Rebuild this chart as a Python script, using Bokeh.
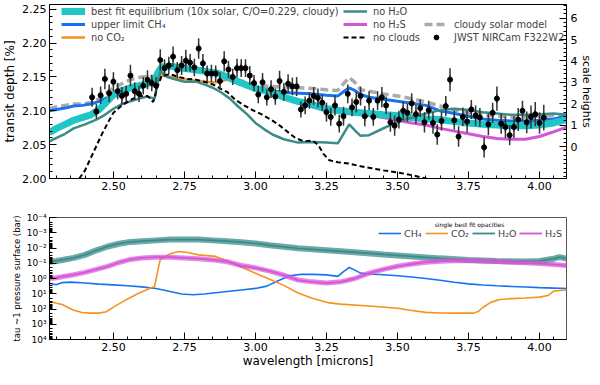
import numpy as np
from bokeh.plotting import figure
from bokeh.layouts import column
from bokeh.models import (Range1d, LinearAxis, Legend, LegendItem, Label, FixedTicker,
                          PrintfTickFormatter, CustomJSTickFormatter, ColumnDataSource)
from bokeh.embed import file_html
from bokeh.resources import INLINE

FONT = "DejaVu Sans"

# ---------------- top panel: model spectra (wavelength [micron], transit depth [%]) ----------
wl_best = [2.275,2.30,2.33,2.36,2.39,2.42,2.45,2.48,2.50,2.53,2.56,2.59,2.62,2.645,2.655,2.67,2.70,2.73,2.76,2.80,
           2.84,2.87,2.90,2.95,3.00,3.05,3.10,3.15,3.20,3.25,3.30,3.35,3.40,3.45,3.50,3.55,3.60,3.65,3.70,3.75,
           3.80,3.85,3.90,3.95,4.00,4.05,4.095]
depth_best = [2.068,2.074,2.080,2.086,2.090,2.094,2.102,2.115,2.124,2.130,2.134,2.137,2.140,2.144,2.155,2.164,2.166,2.164,2.162,2.160,
              2.157,2.155,2.150,2.141,2.133,2.128,2.120,2.114,2.109,2.103,2.100,2.098,2.096,2.094,2.093,2.090,2.088,2.087,2.084,2.082,
              2.080,2.079,2.078,2.078,2.079,2.082,2.087]

wl_ch4 = [2.275,2.30,2.33,2.36,2.39,2.42,2.45,2.48,2.50,2.53,2.56,2.60,2.645,2.655,2.67,2.70,2.75,2.80,2.85,2.90,
          2.95,3.00,3.05,3.10,3.15,3.20,3.25,3.29,3.31,3.33,3.35,3.37,3.40,3.45,3.50,3.55,3.60,3.65,3.70,3.75,
          3.80,3.85,3.90,3.95,4.00,4.05,4.095]
depth_ch4 = [2.100,2.102,2.104,2.107,2.108,2.110,2.114,2.120,2.125,2.131,2.135,2.139,2.143,2.155,2.163,2.165,2.162,2.159,2.156,2.150,
             2.142,2.135,2.130,2.127,2.126,2.125,2.123,2.122,2.128,2.134,2.130,2.124,2.120,2.117,2.114,2.111,2.108,2.100,2.096,2.092,
             2.088,2.086,2.085,2.085,2.086,2.088,2.092]

wl_co2 = [2.275,2.30,2.33,2.36,2.39,2.42,2.45,2.48,2.50,2.53,2.56,2.59,2.62,2.645,2.655,2.67,2.70,2.73,2.76,2.80,
          2.84,2.87,2.90,2.93,2.95,3.00,3.05,3.10,3.15,3.20,3.25,3.30,3.35,3.40,3.45,3.50,3.55,3.60,3.65,3.70,
          3.75,3.80,3.85,3.90,3.95,4.00,4.05,4.095]
depth_co2 = [2.068,2.074,2.080,2.086,2.090,2.094,2.102,2.115,2.124,2.130,2.134,2.137,2.140,2.143,2.147,2.152,2.150,2.148,2.146,2.144,
             2.142,2.142,2.146,2.143,2.141,2.133,2.128,2.120,2.114,2.109,2.103,2.100,2.098,2.096,2.094,2.093,2.090,2.088,2.087,2.084,
             2.082,2.080,2.079,2.078,2.078,2.079,2.082,2.087]

wl_h2o = [2.275,2.30,2.33,2.36,2.40,2.44,2.47,2.50,2.53,2.56,2.59,2.62,2.645,2.655,2.665,2.69,2.72,2.75,2.79,2.82,
          2.85,2.88,2.91,2.94,2.97,3.00,3.03,3.06,3.10,3.15,3.20,3.25,3.29,3.31,3.33,3.35,3.37,3.40,3.44,3.48,
          3.52,3.56,3.60,3.65,3.70,3.75,3.80,3.85,3.90,3.95,4.00,4.05,4.095]
depth_h2o = [2.055,2.060,2.066,2.074,2.080,2.087,2.094,2.103,2.110,2.114,2.118,2.121,2.118,2.140,2.158,2.150,2.146,2.143,2.143,2.139,
             2.134,2.127,2.118,2.106,2.095,2.082,2.073,2.065,2.058,2.053,2.054,2.053,2.052,2.066,2.080,2.071,2.063,2.064,2.072,2.080,
             2.086,2.091,2.096,2.101,2.103,2.101,2.098,2.096,2.094,2.094,2.095,2.096,2.094]

wl_h2s = [2.275,2.30,2.33,2.36,2.39,2.42,2.45,2.48,2.50,2.53,2.56,2.59,2.62,2.645,2.655,2.67,2.70,2.75,2.80,2.85,
          2.90,2.95,3.00,3.05,3.10,3.15,3.20,3.25,3.30,3.35,3.40,3.45,3.50,3.55,3.60,3.65,3.70,3.75,3.80,3.85,
          3.90,3.95,4.00,4.05,4.095]
depth_h2s = [2.066,2.072,2.078,2.084,2.088,2.092,2.099,2.111,2.120,2.127,2.132,2.136,2.140,2.142,2.153,2.162,2.164,2.161,2.158,2.155,
             2.149,2.140,2.132,2.126,2.118,2.111,2.106,2.100,2.097,2.095,2.093,2.090,2.086,2.082,2.079,2.074,2.070,2.066,2.062,2.059,
             2.058,2.058,2.062,2.069,2.076]

wl_nocl = [2.275,2.33,2.36,2.38,2.40,2.42,2.44,2.46,2.48,2.50,2.53,2.56,2.59,2.62,2.64,2.655,2.67,2.70,2.73,2.76,
           2.79,2.82,2.85,2.88,2.90,2.93,2.96,2.99,3.02,3.05,3.08,3.11,3.14,3.17,3.20,3.22,3.24,3.26,3.29,3.33,
           3.37,3.41,3.45,3.50,3.55,3.60,3.65,3.70,3.75]
depth_nocl = [1.930,1.962,1.982,2.000,2.012,2.030,2.048,2.066,2.082,2.097,2.108,2.116,2.122,2.122,2.113,2.135,2.152,2.154,2.150,2.147,
              2.146,2.143,2.139,2.132,2.128,2.116,2.108,2.101,2.095,2.088,2.080,2.070,2.060,2.055,2.056,2.050,2.036,2.027,2.024,2.022,
              2.018,2.015,2.012,2.009,2.005,2.000,1.994,1.988,1.980]

wl_solar = [2.275,2.30,2.33,2.36,2.39,2.42,2.45,2.48,2.50,2.53,2.56,2.60,2.63,2.645,2.655,2.67,2.70,2.75,2.80,2.85,
            2.90,2.95,3.00,3.05,3.10,3.15,3.20,3.25,3.29,3.31,3.33,3.35,3.37,3.40,3.45,3.50,3.55,3.60,3.65,3.70,
            3.75,3.80,3.85,3.90,3.95,4.00,4.05,4.095]
depth_solar = [2.103,2.106,2.108,2.110,2.110,2.112,2.118,2.128,2.134,2.140,2.146,2.150,2.151,2.150,2.160,2.168,2.167,2.164,2.160,2.157,
               2.151,2.144,2.138,2.136,2.135,2.134,2.133,2.131,2.130,2.140,2.149,2.142,2.131,2.129,2.125,2.122,2.118,2.113,2.107,2.101,
               2.097,2.094,2.092,2.091,2.091,2.092,2.093,2.094]

# ---------------- JWST NIRCam F322W2 data points ----------
wl_obs = [2.425,2.440,2.455,2.470,2.485,2.500,2.515,2.530,2.545,2.560,
          2.575,2.590,2.605,2.620,2.635,2.650,2.665,2.680,2.695,2.710,
          2.725,2.740,2.755,2.770,2.785,2.800,2.815,2.830,2.845,2.860,
          2.875,2.890,2.905,2.920,2.935,2.950,2.965,2.980,2.995,3.010,
          3.025,3.040,3.055,3.070,3.085,3.100,3.115,3.130,3.145,3.160,
          3.175,3.190,3.205,3.220,3.235,3.250,3.265,3.280,3.295,3.310,
          3.325,3.340,3.355,3.370,3.385,3.400,3.415,3.430,3.445,3.460,
          3.475,3.490,3.505,3.520,3.535,3.550,3.565,3.580,3.595,3.610,
          3.625,3.640,3.655,3.670,3.685,3.700,3.715,3.730,3.745,3.760,
          3.775,3.790,3.805,3.820,3.835,3.850,3.865,3.880,3.895,3.910,
          3.925,3.940,3.955,3.970,3.985,4.000,4.015]
depth_obs = [2.120,2.099,2.123,2.147,2.126,2.143,2.129,2.122,2.125,2.152,
             2.129,2.125,2.137,2.146,2.141,2.137,2.175,2.163,2.167,2.180,
             2.160,2.167,2.174,2.171,2.164,2.192,2.170,2.155,2.155,2.155,
             2.144,2.173,2.161,2.150,2.163,2.163,2.163,2.152,2.141,2.124,
             2.142,2.120,2.132,2.121,2.144,2.128,2.140,2.136,2.136,2.102,
             2.108,2.115,2.122,2.119,2.112,2.098,2.091,2.108,2.081,2.092,
             2.125,2.105,2.113,2.122,2.092,2.115,2.091,2.115,2.120,2.108,
             2.083,2.078,2.087,2.100,2.097,2.111,2.095,2.104,2.083,2.101,
             2.082,2.065,2.085,2.107,2.146,2.086,2.062,2.091,2.084,2.102,
             2.093,2.090,2.046,2.080,2.097,2.118,2.081,2.076,2.064,2.076,
             2.087,2.100,2.083,2.091,2.095,2.082,2.090]
err_obs = [0.014,0.011,0.013,0.015,0.013,0.014,0.012,0.013,0.012,0.016,
           0.013,0.012,0.013,0.014,0.012,0.013,0.016,0.013,0.013,0.015,
           0.012,0.014,0.016,0.013,0.013,0.015,0.014,0.012,0.013,0.012,
           0.013,0.015,0.013,0.012,0.014,0.013,0.013,0.014,0.012,0.013,
           0.014,0.012,0.013,0.012,0.015,0.013,0.014,0.013,0.014,0.012,
           0.013,0.012,0.013,0.014,0.012,0.014,0.013,0.015,0.013,0.014,
           0.014,0.013,0.015,0.014,0.015,0.014,0.013,0.014,0.015,0.013,
           0.014,0.015,0.013,0.014,0.013,0.015,0.014,0.013,0.015,0.014,
           0.016,0.015,0.014,0.015,0.017,0.014,0.015,0.014,0.016,0.014,
           0.015,0.014,0.015,0.016,0.015,0.018,0.015,0.016,0.015,0.016,
           0.017,0.015,0.016,0.017,0.018,0.016,0.019]

# ---------------- bottom panel: log10 of tau~1 pressure (bar) ----------
wl_op_ch4 = [2.275,2.29,2.30,2.32,2.35,2.40,2.45,2.50,2.55,2.60,2.65,2.70,2.74,2.78,2.82,2.86,2.90,2.95,3.00,3.04,
             3.08,3.12,3.16,3.20,3.25,3.29,3.31,3.33,3.35,3.37,3.40,3.45,3.50,3.55,3.60,3.65,3.70,3.75,3.80,3.85,
             3.90,3.95,4.00,4.05,4.095]
logp_ch4 = [0.31,0.38,0.40,0.27,0.24,0.30,0.37,0.42,0.48,0.55,0.66,0.85,1.02,1.07,1.02,0.93,0.85,0.75,0.65,0.50,
            0.15,-0.18,-0.27,-0.27,-0.24,-0.14,-0.45,-0.72,-0.55,-0.35,-0.30,-0.25,-0.18,-0.10,0.00,0.12,0.25,0.35,0.43,0.48,
            0.52,0.56,0.60,0.63,0.66]

wl_op_co2 = [2.275,2.30,2.32,2.34,2.36,2.39,2.42,2.45,2.475,2.50,2.53,2.56,2.59,2.61,2.63,2.645,2.655,2.665,2.70,2.73,
             2.76,2.80,2.86,2.90,2.95,3.00,3.05,3.10,3.15,3.20,3.26,3.30,3.40,3.50,3.55,3.60,3.65,3.70,3.77,3.785,
             3.80,3.83,3.86,3.90,3.95,4.00,4.03,4.05,4.095]
logp_co2 = [1.51,1.62,1.70,1.90,2.08,2.23,2.27,2.27,2.18,1.88,1.55,1.25,0.95,0.80,0.62,0.52,-0.40,-1.25,-1.62,-1.77,
            -1.70,-1.55,-1.45,-1.15,-0.75,-0.35,0.05,0.45,0.95,1.30,1.60,1.68,1.80,1.95,2.10,2.22,2.26,2.27,2.27,2.15,
            1.90,1.55,1.38,1.32,1.28,1.22,1.12,0.82,0.75]

wl_op_h2o = [2.275,2.30,2.33,2.36,2.40,2.44,2.48,2.52,2.56,2.60,2.65,2.70,2.75,2.80,2.85,2.90,2.95,3.00,3.05,3.10,
             3.15,3.25,3.35,3.45,3.55,3.65,3.75,3.85,3.95,4.00,4.05,4.07,4.095]
logp_h2o = [-1.10,-1.15,-1.25,-1.35,-1.55,-1.85,-2.10,-2.28,-2.40,-2.45,-2.50,-2.55,-2.55,-2.55,-2.50,-2.45,-2.38,-2.30,-2.18,-2.08,
            -1.98,-1.85,-1.72,-1.58,-1.45,-1.32,-1.22,-1.15,-1.12,-1.15,-1.30,-1.40,-1.30]

wl_op_h2s = [2.275,2.30,2.33,2.36,2.40,2.44,2.48,2.52,2.56,2.60,2.65,2.70,2.75,2.80,2.85,2.90,2.95,3.00,3.05,3.10,
             3.15,3.20,3.25,3.30,3.35,3.40,3.45,3.50,3.55,3.60,3.65,3.70,3.75,3.80,3.85,3.90,3.95,4.00,4.05,4.095]
logp_h2s = [0.00,-0.05,-0.15,-0.25,-0.40,-0.60,-0.80,-1.05,-1.25,-1.35,-1.40,-1.40,-1.35,-1.30,-1.22,-1.10,-0.85,-0.70,-0.48,-0.22,
            0.10,0.22,0.30,0.22,0.00,-0.35,-0.60,-0.80,-0.95,-1.07,-1.13,-1.17,-1.18,-1.15,-1.11,-1.07,-1.03,-0.98,-0.92,-0.85]

x_ticks = [2.50, 2.75, 3.00, 3.25, 3.50, 3.75, 4.00]
x_minor = [round(2.30 + 0.05 * i, 2) for i in range(36)]
y_ticks = [2.00, 2.05, 2.10, 2.15, 2.20, 2.25]
y_minor = [round(2.00 + 0.01 * i, 2) for i in range(26)]
sh_ticks = [0, 1, 2, 3, 4, 5, 6]
sh_minor = [round(-1.4 + 0.2 * i, 1) for i in range(41)]
p_ticks = [1e-4, 1e-3, 1e-2, 1e-1, 1e0, 1e1, 1e2, 1e3, 1e4]
p_minor = [k * 10.0 ** e for e in range(-4, 4) for k in range(2, 10)]

C_CYAN = "#1ec6c6"
C_BLUE = "#1474f2"
C_ORANGE = "#f5921e"
C_TEAL = "#3b8c89"
C_MAG = "#d655d6"
C_GRAY = "#aaaaaa"


def style_axis(ax, lab_size="11px", axlab_size="12px"):
    ax.major_tick_in = 7
    ax.major_tick_out = 0
    ax.minor_tick_in = 3
    ax.minor_tick_out = 0
    ax.major_label_text_font = FONT
    ax.major_label_text_font_size = lab_size
    ax.major_label_text_color = "black"
    ax.axis_label_text_font = FONT
    ax.axis_label_text_font_size = axlab_size
    ax.axis_label_text_font_style = "normal"
    ax.axis_label_text_color = "black"
    ax.axis_line_color = "black"
    ax.major_tick_line_color = "black"
    ax.minor_tick_line_color = "black"
    ax.major_label_standoff = 3
    ax.axis_label_standoff = 2


# ---------------- top figure ----------------
p1 = figure(frame_width=517, frame_height=174, x_range=Range1d(2.275, 4.095),
            y_range=Range1d(2.0, 2.257), output_backend="svg", toolbar_location=None,
            min_border_left=45, min_border_right=10, min_border_top=4, min_border_bottom=21)
p1.grid.visible = False
p1.outline_line_color = "black"
p1.outline_line_alpha = 1.0
p1.background_fill_color = "white"

p1.xaxis.ticker = FixedTicker(ticks=x_ticks, minor_ticks=x_minor)
p1.xaxis.formatter = PrintfTickFormatter(format="%.2f")
p1.yaxis.ticker = FixedTicker(ticks=y_ticks, minor_ticks=y_minor)
p1.yaxis.formatter = PrintfTickFormatter(format="%.2f")
p1.yaxis.axis_label = "transit depth [%]"
for ax in p1.xaxis + p1.yaxis:
    style_axis(ax)

p1.extra_y_ranges = {"sh": Range1d(-1.4896, 6.638)}
ax_r = LinearAxis(y_range_name="sh", axis_label="scale heights",
                  ticker=FixedTicker(ticks=sh_ticks, minor_ticks=sh_minor))
style_axis(ax_r, "11px", "11px")
ax_r.major_label_standoff = 4
ax_r.axis_label_standoff = 0
p1.add_layout(ax_r, "right")

r_solar = p1.line(wl_solar, depth_solar, color=C_GRAY, line_width=3.5, line_dash="8 4")
r_ch4 = p1.line(wl_ch4, depth_ch4, color=C_BLUE, line_width=3)
r_co2 = p1.line(wl_co2, depth_co2, color=C_ORANGE, line_width=2.5)
r_h2s = p1.line(wl_h2s, depth_h2s, color=C_MAG, line_width=3)
r_best = p1.line(wl_best, depth_best, color=C_CYAN, line_width=7)
r_h2o = p1.line(wl_h2o, depth_h2o, color=C_TEAL, line_width=2.5)
r_nocl = p1.line(wl_nocl, depth_nocl, color="black", line_width=2, line_dash="5 3")

obs = ColumnDataSource(dict(x=wl_obs, y=depth_obs,
                            lo=[d - e for d, e in zip(depth_obs, err_obs)],
                            hi=[d + e for d, e in zip(depth_obs, err_obs)]))
p1.segment(x0="x", y0="lo", x1="x", y1="hi", source=obs, line_color="#333333", line_width=1.5)
r_bar = p1.scatter("x", "y", source=obs, marker="dash", angle=np.pi / 2, size=9,
                   line_color="#333333", line_width=1.5)
r_pts = p1.scatter("x", "y", source=obs, marker="circle", size=5, color="black")


def top_legend(items, x):
    lg = Legend(items=items, location=(x, 135), orientation="vertical",
                background_fill_alpha=0, border_line_alpha=0, padding=0, margin=0,
                spacing=1, glyph_width=24, glyph_height=12, label_height=12,
                label_standoff=6, label_text_font=FONT, label_text_font_size="9.8px")
    p1.add_layout(lg)


top_legend([LegendItem(label="best fit equilibrium (10x solar, C/O=0.229, cloudy)", renderers=[r_best]),
            LegendItem(label="upper limit CH\u2084", renderers=[r_ch4]),
            LegendItem(label="no CO\u2082", renderers=[r_co2])], 12)
top_legend([LegendItem(label="no H\u2082O", renderers=[r_h2o]),
            LegendItem(label="no H\u2082S", renderers=[r_h2s]),
            LegendItem(label="no clouds", renderers=[r_nocl])], 294)
top_legend([LegendItem(label="cloudy solar model", renderers=[r_solar]),
            LegendItem(label="JWST NIRCam F322W2", renderers=[r_bar, r_pts])], 375)

# ---------------- bottom figure ----------------
p2 = figure(frame_width=517, frame_height=122, x_range=p1.x_range,
            y_range=Range1d(1e4, 1e-4), y_axis_type="log",
            output_backend="svg", toolbar_location=None,
            min_border_left=45, min_border_right=10, min_border_top=18, min_border_bottom=30)
p2.grid.visible = False
p2.outline_line_color = "#555555"
p2.background_fill_color = "white"
p2.xaxis.ticker = FixedTicker(ticks=x_ticks, minor_ticks=x_minor)
p2.xaxis.formatter = PrintfTickFormatter(format="%.2f")
p2.xaxis.axis_label = "wavelength [microns]"
p2.yaxis.ticker = FixedTicker(ticks=p_ticks, minor_ticks=p_minor)
p2.yaxis.formatter = CustomJSTickFormatter(code="""
const e = Math.round(Math.log10(tick));
const m = {'-': '\u207b', '0': '\u2070', '1': '\u00b9', '2': '\u00b2', '3': '\u00b3', '4': '\u2074'};
return '10' + String(e).split('').map(c => m[c]).join('');
""")
p2.yaxis.axis_label = "tau ~1 pressure surface (bar)"
for ax in p2.xaxis:
    style_axis(ax)
    ax.axis_label_standoff = 0
for ax in p2.yaxis:
    style_axis(ax, "9px", "8.5px")

P = lambda lp: [10.0 ** v for v in lp]

rb_ch4 = p2.line(wl_op_ch4, P(logp_ch4), color=C_BLUE, line_width=1.6)
rb_co2 = p2.line(wl_op_co2, P(logp_co2), color=C_ORANGE, line_width=1.6)
p2.line(wl_op_h2o, P(logp_h2o), color=C_TEAL, line_width=6, alpha=0.75)
rb_h2o = p2.line(wl_op_h2o, P(logp_h2o), color=C_TEAL, line_width=1.8)
p2.line(wl_op_h2s, P(logp_h2s), color=C_MAG, line_width=5, alpha=0.7)
rb_h2s = p2.line(wl_op_h2s, P(logp_h2s), color=C_MAG, line_width=1.8)

lg2 = Legend(items=[LegendItem(label="CH\u2084", renderers=[rb_ch4]),
                    LegendItem(label="CO\u2082", renderers=[rb_co2]),
                    LegendItem(label="H\u2082O", renderers=[rb_h2o]),
                    LegendItem(label="H\u2082S", renderers=[rb_h2s])],
             location=(329, 100), orientation="horizontal",
             background_fill_alpha=0, border_line_alpha=0, padding=0, margin=0,
             spacing=1, glyph_width=23, glyph_height=12, label_height=12,
             label_standoff=3, label_text_font=FONT, label_text_font_size="9.5px")
p2.add_layout(lg2)
p2.add_layout(Label(x=420, y=115, x_units="screen", y_units="screen",
                    text="single best fit opacities", text_font=FONT, text_font_size="6px",
                    text_align="center", text_baseline="middle", text_color="black"))

layout = column(p1, p2, spacing=0)
open("out.html", "w").write(file_html(layout, INLINE))
